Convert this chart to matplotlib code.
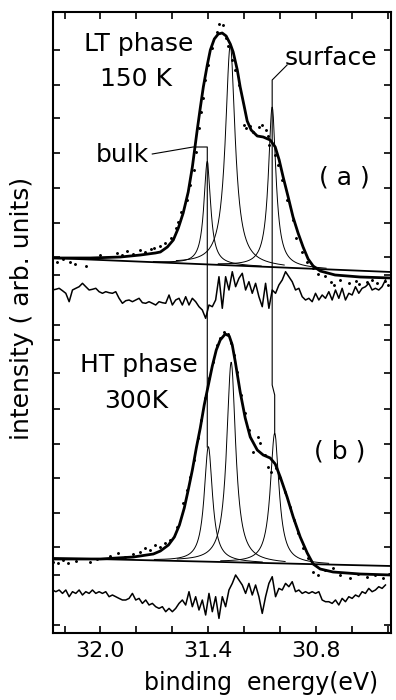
import numpy as np
import matplotlib
matplotlib.use("Agg")
import matplotlib.pyplot as plt

# binding energy axis (eV), intensity in arbitrary units
x_ticks = [32.2, 32.0, 31.8, 31.6, 31.4, 31.2, 31.0, 30.8, 30.6, 30.4]
x_labels = {32.0: "32.0", 31.4: "31.4", 30.8: "30.8"}
y_ticks = [583, 548, 515, 480, 445, 410, 376, 358, 308,
           293, 260, 224, 189, 155, 120, 86, 58, 8]

# (a) LT phase 150 K : fitted envelope
env_a_E = [32.267, 32.056, 31.889, 31.778, 31.695, 31.667, 31.628, 31.595, 31.567, 31.540,
           31.512, 31.489, 31.462, 31.445, 31.428, 31.406, 31.389, 31.367, 31.345, 31.323,
           31.301, 31.278, 31.262, 31.239, 31.223, 31.201, 31.184, 31.162, 31.128, 31.095,
           31.056, 31.028, 31.006, 30.984, 30.956, 30.929, 30.901, 30.873, 30.845, 30.817,
           30.778, 30.695, 30.556, 30.384]
env_a_I = [375, 375, 376, 378, 380, 381, 386, 393, 405, 420,
           441, 466, 503, 525, 546, 568, 583, 594, 599, 600,
           597, 589, 581, 563, 546, 527, 512, 503, 497, 496,
           493, 486, 473, 456, 436, 416, 400, 386, 374, 367,
           362, 358, 356, 355]

# (a) measured points
dots_a_E = [32.24, 32.21, 32.17, 32.14, 32.08, 32.03, 32.00, 31.91, 31.88, 31.85,
            31.82, 31.78, 31.75, 31.72, 31.70, 31.67, 31.64, 31.61, 31.58, 31.57,
            31.55, 31.52, 31.50, 31.48, 31.47, 31.45, 31.44, 31.43, 31.42, 31.40,
            31.38, 31.35, 31.34, 31.32, 31.30, 31.29, 31.27, 31.25, 31.23, 31.20,
            31.19, 31.17, 31.15, 31.12, 31.10, 31.08, 31.07, 31.06, 31.03, 31.01,
            30.99, 30.96, 30.93, 30.91, 30.88, 30.85, 30.82, 30.79, 30.75, 30.72,
            30.70, 30.67, 30.62, 30.58, 30.56, 30.52, 30.49, 30.46, 30.42, 30.40]
dots_a_I = [371, 374, 371, 369, 367, 375, 378, 380, 378, 382,
            379, 383, 381, 384, 385, 387, 390, 395, 405, 411,
            421, 433, 448, 463, 481, 505, 521, 535, 553, 568,
            585, 601, 609, 608, 595, 587, 573, 563, 548, 508,
            505, 507, 501, 506, 508, 503, 497, 488, 478, 468,
            453, 433, 413, 395, 381, 371, 365, 359, 357, 351,
            348, 353, 350, 352, 349, 351, 353, 350, 352, 348]

# (a) background line and components: centre (eV), height, FWHM (eV)
bg_a_E = [32.267, 30.384]
bg_a_I = [375, 361]
comp_a_E0 = [31.406, 31.278, 31.045]
comp_a_H = [103, 220, 160]
comp_a_W = [0.045, 0.065, 0.050]

# (a) residual (data - fit)
res_a = [10, 10.7, 11.7, 9.3, 6.7, -1.7, 10, 11.7, 13.3, 16.7,
         13.3, 10, 10.7, 11.7, 8.3, 6.7, 8.3, 7.3, 6.7, 8.3,
         1.7, -3.3, -0.7, 0, -1.7, 0, 1.7, -2.7, -3.3, -1.7,
         -3.3, -5, -1.7, -2.7, -3.3, 5, -5, 0, 1.7, -5,
         3.3, -5, 1.7, -1.7, -6.7, -10, -18.3, -5, -6.7, 0,
         23.3, -8.3, 23.3, 10, 28.3, 13.3, 21.7, 26.7, 10, 18.3,
         6.7, 16.7, 3.3, -6.7, 16.7, -8.3, 10, 6.7, 15, 20,
         28.3, 23.3, 18.3, 10, 11.7, 3.3, 0, 1.7, -1.7, 6.7,
         0, 5, 1.7, 8.3, 0, 10, 1.7, 11.7, 0, 6.7,
         5, 13.3, 6.7, 11.7, 13.3, 16.7, 10, 11.7, 10, 13.3,
         20]

# (b) HT phase 300 K : fitted envelope
env_b_E = [32.267, 32.000, 31.817, 31.706, 31.667, 31.622, 31.589, 31.561, 31.534, 31.512,
           31.489, 31.467, 31.445, 31.423, 31.400, 31.378, 31.356, 31.334, 31.306, 31.284,
           31.267, 31.250, 31.223, 31.195, 31.167, 31.128, 31.095, 31.056, 31.028, 31.000,
           30.962, 30.928, 30.889, 30.850, 30.817, 30.778, 30.706, 30.556, 30.384]
env_b_I = [74, 74, 76, 79, 82, 88, 96, 108, 125, 143,
           163, 185, 205, 228, 248, 267, 283, 293, 299, 297,
           288, 271, 241, 215, 196, 183, 178, 175, 169, 156,
           136, 116, 96, 80, 69, 64, 61, 59, 58]

dots_b_E = [32.262, 32.234, 32.206, 32.178, 32.139, 32.056, 32.017, 31.945, 31.900, 31.862,
            31.817, 31.778, 31.750, 31.723, 31.695, 31.667, 31.639, 31.612, 31.573, 31.539,
            31.517, 31.501, 31.478, 31.456, 31.439, 31.417, 31.395, 31.373, 31.350, 31.334,
            31.312, 31.289, 31.273, 31.256, 31.239, 31.217, 31.195, 31.173, 31.150, 31.123,
            31.112, 31.084, 31.067, 31.050, 31.023, 31.000, 30.973, 30.945, 30.923, 30.900,
            30.873, 30.845, 30.817, 30.789, 30.750, 30.706, 30.667, 30.612, 30.567, 30.517,
            30.473, 30.428, 30.395]
dots_b_I = [71, 70, 73, 70, 72, 71, 74, 77, 80, 76,
            79, 81, 85, 83, 88, 86, 90, 93, 106, 130,
            143, 156, 173, 195, 213, 235, 255, 271, 288, 295,
            301, 299, 290, 278, 261, 238, 220, 203, 181, 196,
            190, 178, 166, 161, 165, 155, 141, 126, 113, 100,
            85, 75, 61, 58, 63, 65, 58, 55, 59, 56,
            58, 55, 59]

bg_b_E = [32.267, 30.384]
bg_b_I = [75, 67]
comp_b_E0 = [31.400, 31.273, 31.031]
comp_b_H = [115, 200, 130]
comp_b_W = [0.055, 0.060, 0.058]

res_b = [6.7, 5, 6.7, 3.3, 6.7, 0, 5, 3.3, 6.7, 1.7,
         5, 3.3, 6.7, 3.3, 5, 3.3, 5, 0, 1.7, 0,
         -1.7, -3.3, -3.3, -1.7, 3.3, -3.3, -1.7, -6.7, -3.3, -8.3,
         -6.7, -10, -11.7, -10, -15, -11.7, -15, -11.7, -6.7, -3.3,
         -8.3, 5, -10, 0, -13.3, -3.3, -18.3, 3.3, -15, 0,
         -21.7, 0, -10, 6.7, 13.3, 21.7, 16.7, 11.7, 3.3, 13.3,
         1.7, 11.7, 0, -16.7, 0, 13.3, 20, 0, 8.3, 6.7,
         13.3, 10, 15, 5, 6.7, 3.3, 5, 3.3, 5, 3.3,
         5, -3.3, -5, -5, -6.7, -3.3, -8.3, -1.7, -5, 0,
         -1.7, 1.7, 0, 5, 3.3, 8.3, 5, 6.7, 10, 8.3,
         11.7]

res_a_offset = 333
res_b_offset = 36.3
res_E = np.linspace(32.267, 30.415, len(res_a))

# marker lines for bulk and surface peak positions
bulk_line_E = [31.712, 31.485, 31.406, 31.406]
bulk_line_I = [479, 486, 486, 186]
surf_line_E = [30.962, 31.045, 31.045, 31.031, 31.031]
surf_line_I = [568, 553, 248, 238, 200]


def lorentz(E, E0, H, W):
    return H / (1 + ((E - E0) / (W / 2)) ** 2)


fig = plt.figure(figsize=(3.96, 7.0), dpi=100)
ax = fig.add_axes([52.5 / 396, 67 / 700, 338.5 / 396, 621 / 700])

for envE, envI, dE, dI, bgE, bgI, E0s, Hs, Ws, res, off in [
        (env_a_E, env_a_I, dots_a_E, dots_a_I, bg_a_E, bg_a_I,
         comp_a_E0, comp_a_H, comp_a_W, res_a, res_a_offset),
        (env_b_E, env_b_I, dots_b_E, dots_b_I, bg_b_E, bg_b_I,
         comp_b_E0, comp_b_H, comp_b_W, res_b, res_b_offset)]:
    ax.plot(bgE, bgI, color="k", lw=1.3)
    for E0, H, W in zip(E0s, Hs, Ws):
        Eg = np.linspace(E0 - 0.3, E0 + 0.3, 600)
        base = np.interp(Eg, bgE[::-1], bgI[::-1])
        ax.plot(Eg, base + lorentz(Eg, E0, H, W), color="k", lw=0.7)
    ax.plot(envE, envI, color="k", lw=2.0, solid_joinstyle="round")
    ax.plot(dE, dI, "k.", ms=2.2)
    ax.plot(res_E, np.array(res) + off, color="k", lw=1.1)

ax.plot(bulk_line_E, bulk_line_I, color="k", lw=0.8)
ax.plot(surf_line_E, surf_line_I, color="k", lw=0.8)

fs = 18
ax.text(31.789, 589, "LT phase", fontsize=fs, ha="center", va="center")
ax.text(31.80, 554, "150 K", fontsize=fs, ha="center", va="center")
ax.text(30.717, 575, "surface", fontsize=fs, ha="center", va="center")
ax.text(31.878, 478, "bulk", fontsize=fs, ha="center", va="center")
ax.text(30.645, 456, "( a )", fontsize=fs, ha="center", va="center")
ax.text(31.789, 268, "HT phase", fontsize=fs, ha="center", va="center")
ax.text(31.80, 232, "300K", fontsize=fs, ha="center", va="center")
ax.text(30.667, 182, "( b )", fontsize=fs, ha="center", va="center")

ax.set_xlim(32.267, 30.384)
ax.set_ylim(0, 621)
ax.set_xticks(x_ticks)
ax.set_xticklabels([x_labels.get(t, "") for t in x_ticks])
ax.set_yticks(y_ticks)
ax.set_yticklabels([])
ax.tick_params(direction="in", length=5, width=1.2, top=True, right=True,
               labelsize=16, pad=6)
for s in ax.spines.values():
    s.set_linewidth(1.5)

fig.text(0.056, 0.56, "intensity ( arb. units)", rotation=90, fontsize=18,
         ha="center", va="center")
fig.text(0.66, 0.024, "binding  energy(eV)", fontsize=17, ha="center", va="center")

fig.savefig("out.png", dpi=100)
